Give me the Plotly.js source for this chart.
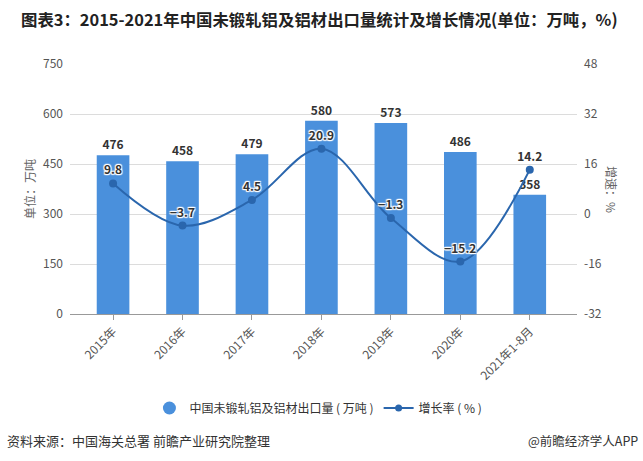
<!DOCTYPE html>
<html>
<head>
<meta charset="utf-8">
<script src="https://cdn.plot.ly/plotly-3.0.1.min.js"></script>
<style>
html,body{margin:0;padding:0;background:#fff;}
#chart{width:643px;height:461px;}
</style>
</head>
<body>
<div id="chart"></div>
<script>
var categories = ["2015年","2016年","2017年","2018年","2019年","2020年","2021年1-8月"];
var exportVolume = [476, 458, 479, 580, 573, 486, 358];
var growthRate = [9.8, -3.7, 4.5, 20.9, -1.3, -15.2, 14.2];
var leftTicks = [0, 150, 300, 450, 600, 750];
var rightTicks = [-32, -16, 0, 16, 32, 48];

var FONT = '"Noto Sans CJK SC", "Microsoft YaHei", sans-serif';
var barColor = '#4a90dc';
var lineColor = '#2a66ad';
var halo = '1px 1px 1px #fff, -1px -1px 1px #fff, 1px -1px 1px #fff, -1px 1px 1px #fff, 0 1px 1px #fff, 0 -1px 1px #fff';

var traces = [
  {
    type: 'bar', x: categories, y: exportVolume, name: '中国未锻轧铝及铝材出口量（万吨）',
    marker: {color: barColor}, showlegend: false,
    text: exportVolume.map(String), textposition: 'outside', cliponaxis: false,
    textfont: {family: FONT, size: 12, color: '#333', weight: 'bold'},
    hoverinfo: 'x+y'
  },
  {
    type: 'scatter', mode: 'lines+markers+text', x: categories, y: growthRate, yaxis: 'y2',
    name: '增长率（%）', showlegend: false,
    line: {color: lineColor, width: 2, shape: 'spline', smoothing: 1},
    marker: {color: lineColor, size: 8},
    text: growthRate.map(function(v){return v < 0 ? '\u2212' + Math.abs(v) : String(v);}),
    textposition: 'top center', cliponaxis: false,
    textfont: {family: FONT, size: 12, color: '#333', weight: 'bold', shadow: halo}
  },
  {
    type: 'scatter', mode: 'markers', x: [null], y: [null], name: '中国未锻轧铝及铝材出口量 ( 万吨 )',
    marker: {color: barColor, size: 13, symbol: 'circle'}, showlegend: true
  },
  {
    type: 'scatter', mode: 'lines+markers', x: [null], y: [null], yaxis: 'y2', name: '增长率 ( % )',
    line: {color: lineColor, width: 2}, marker: {color: lineColor, size: 7}, showlegend: true
  }
];

var layout = {
  width: 643, height: 461,
  margin: {l: 70, r: 66, t: 64, b: 147},
  paper_bgcolor: '#fff', plot_bgcolor: '#fff',
  font: {family: FONT, size: 12, color: '#555'},
  bargap: 0.53,
  title: {
    text: '<b>图表3：2015-2021年中国未锻轧铝及铝材出口量统计及增长情况(单位：万吨，%)</b>',
    font: {family: FONT, size: 16.4, color: '#222'},
    xref: 'container', yref: 'container', x: 21/643, xanchor: 'left', y: 1 - 20/461, yanchor: 'middle'
  },
  xaxis: {
    type: 'category', range: [-0.62, 6.68],
    tickangle: -45, tickfont: {family: FONT, size: 12, color: '#555'},
    ticks: 'outside', ticklen: 5, tickcolor: '#999',
    showline: true, linecolor: '#999', linewidth: 1, showgrid: false, zeroline: false
  },
  yaxis: {
    range: [0, 750], tickvals: leftTicks, ticktext: leftTicks.map(String),
    tickfont: {family: FONT, size: 12, color: '#555'},
    showgrid: true, gridcolor: '#dcdcdc', gridwidth: 1, zeroline: false, showline: false,
    ticks: '', ticklabelstandoff: 6
  },
  yaxis2: {
    overlaying: 'y', side: 'right', range: [-32, 48], tickvals: rightTicks, ticktext: rightTicks.map(String),
    tickfont: {family: FONT, size: 12, color: '#555'},
    showgrid: false, zeroline: false, showline: false, ticks: '', ticklabelstandoff: 6
  },
  legend: {
    orientation: 'h', x: 0.49, xanchor: 'center', xref: 'paper', y: -0.376, yanchor: 'middle',
    font: {family: FONT, size: 12, color: '#333'}, itemwidth: 30, tracegroupgap: 0,
    traceorder: 'normal'
  },
  annotations: [
    {text: '单位：万吨', textangle: -90, xref: 'paper', yref: 'paper', x: (29-70)/507, xanchor: 'center',
     y: 0.5, yanchor: 'middle',
     showarrow: false, font: {family: FONT, size: 12, color: '#666'}},
    {text: '增速：%', textangle: 90, xref: 'paper', yref: 'paper', x: (612-70)/507, xanchor: 'center',
     y: 0.5, yanchor: 'middle',
     showarrow: false, font: {family: FONT, size: 12, color: '#666'}},
    {text: '资料来源：中国海关总署 前瞻产业研究院整理', xref: 'paper', yref: 'paper',
     x: (5-70)/507, xanchor: 'left', y: (314-440)/250, yanchor: 'middle',
     showarrow: false, font: {family: FONT, size: 13, color: '#333'}},
    {text: '@前瞻经济学人APP', xref: 'paper', yref: 'paper',
     x: (640-70)/507, xanchor: 'right', y: (314-440)/250, yanchor: 'middle',
     showarrow: false, font: {family: FONT, size: 12.5, color: '#333'}}
  ]
};

Plotly.newPlot('chart', traces, layout, {displayModeBar: false, responsive: false});
</script>
</body>
</html>
